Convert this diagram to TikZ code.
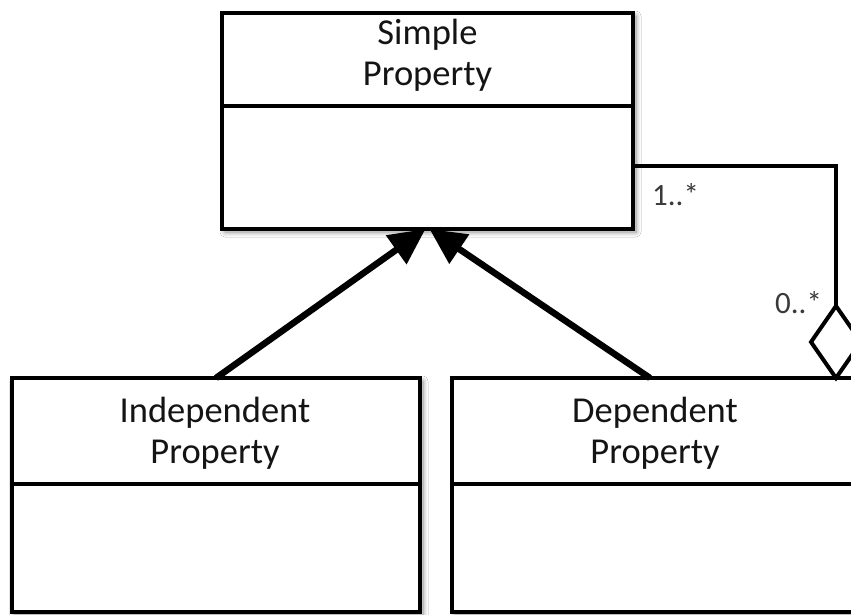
\documentclass[tikz,border=0pt]{standalone}
\usepackage{fontspec}
\setmainfont{Carlito}
\usetikzlibrary{arrows.meta,shapes.geometric,shadows.blur}

\definecolor{ink}{HTML}{141414}
\definecolor{labelink}{HTML}{3A3A3A}

\tikzset{
  classbox/.style={draw=black, fill=white, line width=4pt, inner sep=0pt, outer sep=0pt,
    anchor=north west,
    blur shadow={shadow xshift=3pt, shadow yshift=-3pt, shadow blur radius=5pt,
                 shadow blur steps=10, shadow opacity=45}},
  divider/.style={draw=black, line width=4pt},
  title/.style={text=ink, font=\fontsize{36.5}{44}\selectfont, inner sep=0pt, anchor=base},
  mult/.style={text=labelink, font=\fontsize{31}{36}\selectfont, inner sep=0pt, anchor=base west},
  inherit/.style={draw=black, line width=6.5pt,
    -{Triangle[length=36pt, width=34pt]}},
  assoc/.style={draw=black, line width=3.5pt},
  aggmark/.style={diamond, draw=black, fill=white, line width=4pt, inner sep=0pt, outer sep=0pt,
    minimum width=50pt, minimum height=72pt, anchor=south},
}

\begin{document}
\begin{tikzpicture}[x=1pt, y=-1pt]
  \clip (0,0) rectangle (851,615);
  \fill[white] (0,0) rectangle (851,615);

  % class boxes
  \node[classbox, minimum width=411pt, minimum height=216pt] (simple) at (222,13) {};
  \node[classbox, minimum width=408pt, minimum height=234pt] (indep) at (12,378) {};
  \node[classbox, minimum width=406pt, minimum height=234pt] (dep) at (452,378) {};

  % compartment dividers
  \draw[divider] (simple.west |- 0,106) -- (simple.east |- 0,106);
  \draw[divider] (indep.west |- 0,484) -- (indep.east |- 0,484);
  \draw[divider] (dep.west |- 0,484) -- (dep.east |- 0,484);

  % class names
  \node[title] (simpleA) at (427.5,45) {Simple};
  \node[title] (simpleB) at (427.5,86) {Property};
  \node[title] (indepA) at (215,422) {Independent};
  \node[title] (indepB) at (215,463) {Property};
  \node[title] (depA) at (655,422) {Dependent};
  \node[title] (depB) at (655,463) {Property};

  % generalisation arrows
  \draw[inherit] (indep.north) -- ([xshift=-2pt]simple.south);
  \draw[inherit] ([xshift=-5pt]dep.north) -- ([xshift=2pt]simple.south);

  % aggregation
  \node[aggmark] (agg) at (836,378) {};
  \draw[assoc] (simple.east |- 0,166) -| (agg.north);

  % multiplicities
  \node[mult] (multA) at (652,205) {1..*};
  \node[mult] (multB) at (775,313) {0..*};
\end{tikzpicture}
\end{document}
